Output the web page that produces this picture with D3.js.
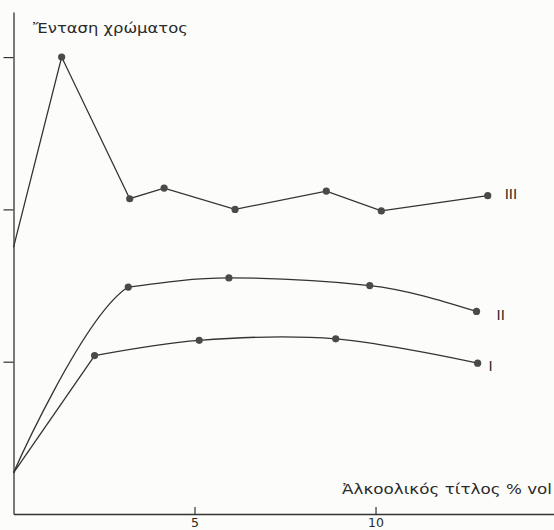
<!DOCTYPE html>
<html>
<head>
<meta charset="utf-8">
<script src="https://cdn.jsdelivr.net/npm/d3@7"></script>
<style>
  html, body { margin: 0; padding: 0; background: #fcfcfa; }
  svg { display: block; }
  text { font-family: "DejaVu Sans", "Liberation Sans", Arial, sans-serif; fill: #2a2a2a; }
</style>
</head>
<body>
<svg id="chart" width="554" height="530"></svg>
<script>
// Alcohol content (% vol) on x, colour intensity on y
const seriesIII_x = [0, 1.33, 3.21, 4.16, 6.12, 8.64, 10.16, 13.10];
const seriesIII_y = [1.75, 3.00, 2.07, 2.14, 2.00, 2.12, 1.99, 2.09];

const seriesII_x = [0, 3.17, 5.95, 9.84, 12.79];
const seriesII_y = [0.27, 1.49, 1.55, 1.50, 1.33];

const seriesI_x = [0, 2.24, 5.13, 8.90, 12.82];
const seriesI_y = [0.27, 1.04, 1.14, 1.15, 0.99];

const seriesNames = ["I", "II", "III"];
const xTicks = [5, 10];
const yTicks = [1, 2, 3];

const xTitle = "Ἀλκοολικός τίτλος % vol";
const yTitle = "Ἔνταση χρώματος";

const svg = d3.select("#chart");

const x = d3.scaleLinear().domain([0, 14.93]).range([13.5, 554]);
const y = d3.scaleLinear().domain([0, 3.296]).range([514, 12]);

const ink = "#333";

// axes
const xAxis = d3.axisBottom(x).tickValues(xTicks).tickSizeInner(-7).tickSizeOuter(0).tickPadding(4);
const gx = svg.append("g").attr("transform", `translate(0,${y(0)})`).call(xAxis);
gx.select(".domain").attr("stroke", ink).attr("stroke-width", 1.3);
gx.selectAll(".tick line").attr("stroke", ink).attr("stroke-width", 1.2);
gx.selectAll(".tick text").attr("font-size", 12.5).attr("fill", "#2a2a2a")
  .attr("font-family", "DejaVu Sans, Liberation Sans, Arial, sans-serif");

const yAxis = d3.axisLeft(y).tickValues(yTicks).tickSizeInner(10).tickSizeOuter(0).tickFormat("");
const gy = svg.append("g").attr("transform", `translate(${x(0)},0)`).call(yAxis);
gy.select(".domain").attr("stroke", ink).attr("stroke-width", 1.3);
gy.selectAll(".tick line").attr("stroke", ink).attr("stroke-width", 1.2);

// axis titles, widened horizontally to a set width
function wideText(str, x0, y0, size, width) {
  const g = svg.append("g");
  const t = g.append("text").attr("font-size", size).text(str);
  const natural = t.node().getComputedTextLength();
  g.attr("transform", `translate(${x0},${y0}) scale(${width / natural},1)`);
  return t;
}
wideText(yTitle, 33, 33, 14, 155);
wideText(xTitle, 342, 494, 13.5, 210);

const zip = (xs, ys) => xs.map((v, i) => ({ x: v, y: ys[i] }));
const I = zip(seriesI_x, seriesI_y);
const II = zip(seriesII_x, seriesII_y);
const III = zip(seriesIII_x, seriesIII_y);

const lineLinear = d3.line().x(d => x(d.x)).y(d => y(d.y));
const lineSmooth = d3.line().x(d => x(d.x)).y(d => y(d.y)).curve(d3.curveCatmullRom.alpha(0.5));
const lineMono = d3.line().x(d => x(d.x)).y(d => y(d.y)).curve(d3.curveMonotoneX);

const stroke = sel => sel.attr("fill", "none").attr("stroke", ink).attr("stroke-width", 1.3);

// clip so the rising part of II ends at its first reading
const defs = svg.append("defs");
defs.append("clipPath").attr("id", "rise-II")
  .append("rect").attr("x", 0).attr("y", 0)
  .attr("width", x(II[1].x)).attr("height", 530);

// III: straight segments
svg.append("path").attr("d", lineLinear(III)).call(stroke);
// II: smooth rise, then a level curve without overshoot
svg.append("path").attr("d", lineSmooth(II.slice(0, 3))).attr("clip-path", "url(#rise-II)").call(stroke);
svg.append("path").attr("d", lineMono(II.slice(1))).call(stroke);
// I: rises straight to its first reading, then a smooth curve
svg.append("path").attr("d", lineLinear(I.slice(0, 2))).call(stroke);
svg.append("path").attr("d", lineSmooth(I.slice(1))).call(stroke);

// markers (the shared origin point is not marked)
const dots = [...III.slice(1), ...II.slice(1), ...I.slice(1)];
svg.append("g").selectAll("circle").data(dots).join("circle")
  .attr("cx", d => x(d.x)).attr("cy", d => y(d.y)).attr("r", 3.6)
  .attr("fill", "#4a4a4a");

// series labels at the end of each line
const ends = [I[I.length - 1], II[II.length - 1], III[III.length - 1]];
const labelDx = [11, 20, 17];
const labelDy = [3.5, 5, -1];
svg.append("g").selectAll("text").data(ends).join("text")
  .attr("x", (d, i) => x(d.x) + labelDx[i])
  .attr("y", (d, i) => y(d.y) + labelDy[i])
  .attr("font-size", 14)
  .attr("fill", "#2a2a2a")
  .attr("dominant-baseline", "middle")
  .text((d, i) => seriesNames[i]);
</script>
</body>
</html>
